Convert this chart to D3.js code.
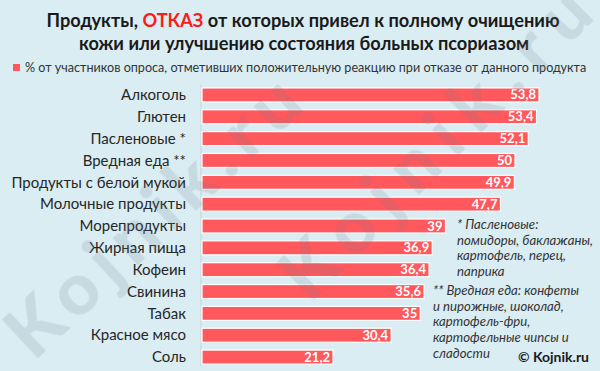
<!DOCTYPE html>
<html><head><meta charset="utf-8">
<script src="https://cdn.jsdelivr.net/npm/d3@7"></script>
<style>html,body{margin:0;padding:0;background:#daedf3;}svg{display:block;}</style>
</head><body>
<script>
const categories = ["Алкоголь","Глютен","Пасленовые *","Вредная еда **","Продукты с белой мукой","Молочные продукты","Морепродукты","Жирная пища","Кофеин","Свинина","Табак","Красное мясо","Соль"];
const values = [53.8,53.4,52.1,50,49.9,47.7,39,36.9,36.4,35.6,35,30.4,21.2];
const valueLabels = ["53,8","53,4","52,1","50","49,9","47,7","39","36,9","36,4","35,6","35","30,4","21,2"];
const titleLine1 = ["Продукты, ", "ОТКАЗ", " от которых привел к полному очищению"];
const titleLine2 = "кожи или улучшению состояния больных псориазом";
const legendText = "% от участников опроса, отметивших положительную реакцию при отказе от данного продукта";
const note1 = ["* Пасленовые:","помидоры, баклажаны,","картофель, перец,","паприка"];
const note2 = ["** Вредная еда: конфеты","и пирожные, шоколад,","картофель-фри,","картофельные чипсы и","сладости"];
const watermark = "Kojnik.ru";

const W=600,H=371;
const svg=d3.select("body").append("svg").attr("width",W).attr("height",H);
svg.append("rect").attr("width",W).attr("height",H).attr("fill","#daedf3");

const font="Lato, 'Open Sans', sans-serif";

// title
const t1=svg.append("text").attr("x",303).attr("y",27).attr("text-anchor","middle")
  .attr("font-family",font).attr("font-weight","bold").attr("font-size",18.2).attr("fill","#1a1a1a");
t1.append("tspan").text(titleLine1[0]);
t1.append("tspan").attr("fill","#ff1a1a").text(titleLine1[1]);
t1.append("tspan").text(titleLine1[2]);
svg.append("text").attr("x",304).attr("y",50).attr("text-anchor","middle")
  .attr("font-family",font).attr("font-weight","bold").attr("font-size",18.2).attr("fill","#1a1a1a").text(titleLine2);

// legend
svg.append("rect").attr("x",13).attr("y",64).attr("width",7).attr("height",7).attr("fill","#ff585d");
svg.append("text").attr("x",25).attr("y",72).attr("font-family",font).attr("font-size",12.6).attr("fill","#333").text(legendText);

const x=d3.scaleLinear().domain([0,53.8]).range([199,539]);
const y=d3.scaleBand().domain(categories).range([84,368]).paddingInner(0.36).paddingOuter(0.18);

// axis line
svg.append("line").attr("x1",201).attr("x2",201).attr("y1",84).attr("y2",366).attr("stroke","#c8d2d6").attr("stroke-width",1);

const g=svg.append("g");
g.selectAll("rect.bar").data(values).join("rect").attr("class","bar")
  .attr("x",x(0)+3).attr("y",(d,i)=>y(categories[i]))
  .attr("width",d=>x(d)-x(0)-3).attr("height",y.bandwidth())
  .attr("fill","#ff585d").attr("stroke","#ffffff").attr("stroke-width",1.2);

g.selectAll("text.val").data(values).join("text").attr("class","val")
  .attr("x",d=>x(d)-3).attr("y",(d,i)=>y(categories[i])+y.bandwidth()/2+4.5)
  .attr("text-anchor","end").attr("font-family",font).attr("font-weight","bold").attr("font-size",13)
  .attr("fill","#fff").text((d,i)=>valueLabels[i]);

// category axis labels
const yAxis=d3.axisLeft(y).tickSize(0).tickPadding(0);
const ax=svg.append("g").attr("transform","translate(186,0)").call(yAxis);
ax.select(".domain").remove();
ax.selectAll("text").attr("font-family",font).attr("font-size",15).attr("fill","#262626").attr("dy","0.35em");

// notes
const n1=svg.append("text").attr("font-family",font).attr("font-style","italic").attr("font-size",13.2).attr("fill","#333");
note1.forEach((s,i)=>n1.append("tspan").attr("x",457).attr("y",229+i*15.7).text(s));
const n2=svg.append("text").attr("font-family",font).attr("font-style","italic").attr("font-size",13.2).attr("fill","#333");
note2.forEach((s,i)=>n2.append("tspan").attr("x",433).attr("y",295+i*15.7).text(s));

svg.append("text").attr("x",589).attr("y",362).attr("text-anchor","end").attr("font-family",font)
  .attr("font-weight","bold").attr("font-size",14).attr("fill","#1a1a1a").text("© Kojnik.ru");

// watermarks (faint, on top like the original)
const wm=svg.append("g").attr("fill","#6f7f87").attr("opacity",0.17).attr("font-family",font).attr("font-weight","900").attr("font-size",72);
wm.append("text").attr("transform","translate(34,362) rotate(-43)").attr("textLength",372).attr("lengthAdjust","spacing").text(watermark);
wm.append("text").attr("transform","translate(310,304) rotate(-45)").attr("textLength",405).attr("lengthAdjust","spacing").text(watermark);
</script>
</body></html>
